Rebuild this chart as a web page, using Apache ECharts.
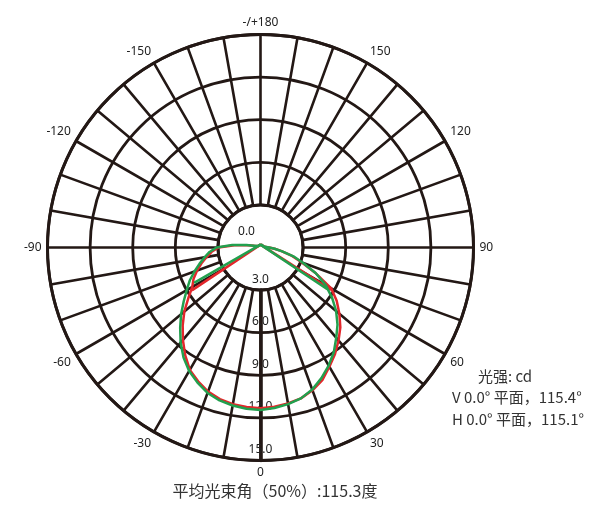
<!DOCTYPE html>
<html>
<head>
<meta charset="utf-8">
<script src="https://cdn.jsdelivr.net/npm/echarts@6/dist/echarts.min.js"></script>
<style>html,body{margin:0;padding:0;background:#fff;}#c{width:612px;height:506px;}</style>
</head>
<body>
<div id="c"></div>
<script>
// ---- data ----
const angles = [-180,-170,-160,-150,-140,-130,-120,-110,
  -105,-100,-95,-90,-85,-80,-75,-70,-65,-60,-55,-50,-45,-40,-35,-30,-25,-20,-15,-10,-5,0,
  5,10,15,20,25,30,35,40,45,50,55,60,65,70,75,80,85,90,95,100,105,
  110,120,130,140,150,160,170,180];
const redValues = [0.2,0.2,0.2,0.2,0.2,0.2,0.2,0.22,
  0.45,0.9,1.85,2.95,3.45,3.85,4.3,4.75,5.2,5.55,6.2,7.0,7.75,8.5,9.25,9.95,10.4,10.8,11.05,11.2,11.28,11.32,
  11.25,11.15,11.0,10.7,10.3,9.7,9.15,8.55,7.95,7.25,6.55,5.75,4.3,3.1,2.3,1.5,1.0,0.6,0.4,0.3,0.25,
  0.2,0.2,0.2,0.2,0.2,0.2,0.2,0.2];
const greenValues = [0.2,0.2,0.2,0.2,0.2,0.2,0.2,0.25,
  0.5,1.0,2.0,3.1,3.6,4.0,4.45,4.95,5.5,6.0,6.6,7.3,8.0,8.75,9.45,10.05,10.5,10.9,11.15,11.3,11.4,11.45,
  11.35,11.2,11.0,10.65,10.15,9.6,9.0,8.3,7.67,6.95,6.15,5.3,4.3,3.2,2.4,1.55,1.0,0.6,0.4,0.3,0.25,
  0.2,0.2,0.2,0.2,0.2,0.2,0.2,0.2];
const redChordAngles = [-58, 180, 59];
const redChordValues = [5.7, 0.2, 5.8];
const greenChordAngles = [-62, 180, 58];
const greenChordValues = [5.3, 0.2, 5.55];
const radiusTicks = [0, 3, 6, 9, 12, 15];
const angleLabelStep = 30;
const legendTitle = '光强: cd';
const legendV = 'V 0.0° 平面，115.4°';
const legendH = 'H 0.0° 平面，115.1°';
const bottomText = '平均光束角（50%）:115.3度';

// ---- build ----
const norm = a => ((a % 360) + 360) % 360;
const pairs = (vals, angs) => vals.map((v, i) => [v, norm(angs[i])]);
const INK = '#231815';
const TXT = '#222222';
const C = [260.5, 247.5];
const R = 213;
const rMax = radiusTicks[radiusTicks.length - 1];
const rHole = R * radiusTicks[1] / rMax;

const chart = echarts.init(document.getElementById('c'), null, {renderer: 'canvas'});
chart.setOption({
  backgroundColor: '#ffffff',
  animation: false,
  polar: [
    {center: C, radius: [rHole, R]},
    {center: C, radius: [0, R]}
  ],
  angleAxis: [
    {
      polarIndex: 0, type: 'value', min: 0, max: 360, interval: 10,
      startAngle: 270, clockwise: false,
      axisLine: {show: true, lineStyle: {color: INK, width: 3}},
      axisTick: {show: false},
      splitLine: {show: true, lineStyle: {color: INK, width: 2.6}},
      axisLabel: {
        show: true, margin: 6, color: TXT, fontSize: 12, fontFamily: 'Noto Sans',
        formatter: v => {
          if (v % angleLabelStep !== 0 || v === 360) return '';
          if (v === 180) return '-/+180';
          return String(v > 180 ? v - 360 : v);
        }
      }
    },
    {
      polarIndex: 1, type: 'value', min: 0, max: 360, interval: 30,
      startAngle: 270, clockwise: false,
      axisLine: {show: false}, axisTick: {show: false},
      splitLine: {show: false}, axisLabel: {show: false}
    }
  ],
  radiusAxis: [
    {
      polarIndex: 0, type: 'value', min: radiusTicks[1], max: rMax, interval: 3,
      axisLine: {show: true, lineStyle: {color: INK, width: 3.6}},
      axisTick: {show: false}, axisLabel: {show: false},
      splitLine: {show: true, lineStyle: {color: INK, width: 2.8}}
    },
    {
      polarIndex: 1, type: 'value', min: 0, max: rMax, interval: 3,
      axisLine: {show: false}, axisTick: {show: false}, splitLine: {show: false},
      axisLabel: {
        show: true, margin: 0, align: 'center', verticalAlign: 'bottom',
        color: TXT, fontSize: 12, fontFamily: 'Noto Sans', padding: [0, 0, 5, 0],
        formatter: v => v === 0 ? '{z|0.0}' : v.toFixed(1),
        rich: {z: {padding: [0, 28, 5, 0], fontSize: 12, color: TXT, fontFamily: 'Noto Sans'}}
      }
    }
  ],
  series: [
    {type: 'line', coordinateSystem: 'polar', polarIndex: 1, data: pairs(redValues, angles),
     smooth: false, symbol: 'none', lineStyle: {color: '#e3262b', width: 2.5, join: 'round'}, z: 3},
    {type: 'line', coordinateSystem: 'polar', polarIndex: 1, data: pairs(redChordValues, redChordAngles),
     smooth: false, symbol: 'none', lineStyle: {color: '#e3262b', width: 2.5}, z: 3},
    {type: 'line', coordinateSystem: 'polar', polarIndex: 1, data: pairs(greenValues, angles),
     smooth: false, symbol: 'none', lineStyle: {color: '#22a04e', width: 2.5, join: 'round'}, z: 4},
    {type: 'line', coordinateSystem: 'polar', polarIndex: 1, data: pairs(greenChordValues, greenChordAngles),
     smooth: false, symbol: 'none', lineStyle: {color: '#22a04e', width: 2.5}, z: 4}
  ],
  graphic: [
    {type: 'text', x: 478, y: 376, style: {text: legendTitle, fill: '#333', font: '15px "Noto Sans CJK SC"', align: 'left', verticalAlign: 'middle'}},
    {type: 'text', x: 452, y: 397, style: {text: legendV, fill: '#333', font: '15px "Noto Sans CJK SC"', align: 'left', verticalAlign: 'middle'}},
    {type: 'text', x: 452, y: 419, style: {text: legendH, fill: '#333', font: '15px "Noto Sans CJK SC"', align: 'left', verticalAlign: 'middle'}},
    {type: 'text', x: 275, y: 491, style: {text: bottomText, fill: '#333', font: '16px "Noto Sans CJK SC"', align: 'center', verticalAlign: 'middle'}}
  ]
});
</script>
</body>
</html>
